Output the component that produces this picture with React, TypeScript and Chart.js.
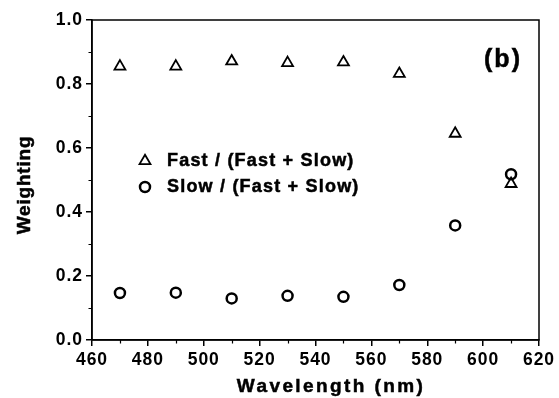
import React, { useEffect, useRef } from "react";
import { Chart, registerables } from "chart.js";
import { drawPoint } from "chart.js/helpers";

Chart.register(...registerables);

const wavelengths = [470, 490, 510, 530, 550, 570, 590, 610];
const fastWeight = [0.855, 0.855, 0.871, 0.866, 0.868, 0.832, 0.645, 0.488];
const slowWeight = [0.147, 0.148, 0.13, 0.138, 0.135, 0.172, 0.358, 0.518];
const seriesLabels = ["Fast / (Fast + Slow)", "Slow / (Fast + Slow)"];
const panelLabel = "(b)";
const xTitle = "Wavelength (nm)";
const yTitle = "Weighting";

const FONT = "'Liberation Sans', Arial, sans-serif";

const spacingPlugin = {
  id: "spacing",
  beforeDraw(chart: any) {
    (chart.ctx as any).letterSpacing = "1px";
  },
};

function boldText(ctx: any, text: string, x: number, y: number) {
  ctx.fillText(text, x, y);
  ctx.lineWidth = 0.5;
  ctx.strokeStyle = "#000";
  ctx.strokeText(text, x, y);
}

const framePlugin = {
  id: "frame",
  afterDraw(chart: any) {
    const { ctx, chartArea } = chart;
    const { left, right, top, bottom } = chartArea;
    const xs = chart.scales.x;
    const ys = chart.scales.y;
    ctx.save();
    (ctx as any).letterSpacing = "0px";
    ctx.strokeStyle = "#000";
    ctx.lineWidth = 1.5;
    ctx.strokeRect(left, top, right - left, bottom - top);
    // minor ticks
    ctx.lineWidth = 1.2;
    ctx.beginPath();
    for (let v = xs.min + 10; v < xs.max; v += 20) {
      const px = Math.round(xs.getPixelForValue(v)) + 0.5;
      ctx.moveTo(px, bottom);
      ctx.lineTo(px, bottom + 3.5);
    }
    for (let v = 0.1; v < 1.0; v += 0.2) {
      const py = Math.round(ys.getPixelForValue(v)) + 0.5;
      ctx.moveTo(left, py);
      ctx.lineTo(left - 3.5, py);
    }
    ctx.stroke();

    // legend
    const legendX = 145;
    const rowsY = [161, 187];
    chart.data.datasets.forEach((ds: any, i: number) => {
      ctx.strokeStyle = "#000";
      ctx.fillStyle = "rgba(0,0,0,0)";
      ctx.lineWidth = ds.pointBorderWidth;
      drawPoint(ctx, { pointStyle: ds.pointStyle, radius: ds.pointRadius, rotation: 0, borderWidth: ds.pointBorderWidth }, legendX, rowsY[i]);
    });
    ctx.fillStyle = "#000";
    ctx.textBaseline = "middle";
    ctx.textAlign = "left";
    ctx.font = `bold 18px ${FONT}`;
    (ctx as any).letterSpacing = "1.2px";
    chart.data.datasets.forEach((ds: any, i: number) => {
      boldText(ctx, ds.label, 167, rowsY[i]);
    });

    // axis titles
    ctx.font = `bold 19px ${FONT}`;
    (ctx as any).letterSpacing = "2.4px";
    ctx.textAlign = "center";
    ctx.textBaseline = "alphabetic";
    boldText(ctx, xTitle, 331, 392);
    ctx.save();
    ctx.translate(30, (top + bottom) / 2 + 5);
    ctx.rotate(-Math.PI / 2);
    ctx.font = `bold 19px ${FONT}`;
    (ctx as any).letterSpacing = "0.8px";
    boldText(ctx, yTitle, 0, 0);
    ctx.restore();

    // panel label
    (ctx as any).letterSpacing = "2px";
    ctx.font = `bold 25px ${FONT}`;
    ctx.textAlign = "center";
    ctx.textBaseline = "middle";
    boldText(ctx, panelLabel, 503, 60);
    ctx.restore();
  },
};

export default function App() {
  const ref = useRef<HTMLCanvasElement>(null);
  useEffect(() => {
    document.body.style.margin = "0";
    const chart = new Chart(ref.current!, {
      type: "scatter",
      data: {
        datasets: [
          {
            label: seriesLabels[0],
            data: wavelengths.map((w, i) => ({ x: w, y: fastWeight[i] })),
            pointStyle: "triangle",
            pointRadius: 6.3,
            pointBorderWidth: 1.8,
            borderColor: "#000",
            backgroundColor: "rgba(0,0,0,0)",
            pointBackgroundColor: "rgba(0,0,0,0)",
            pointBorderColor: "#000",
          },
          {
            label: seriesLabels[1],
            data: wavelengths.map((w, i) => ({ x: w, y: slowWeight[i] })),
            pointStyle: "circle",
            pointRadius: 5,
            pointBorderWidth: 2.5,
            borderColor: "#000",
            backgroundColor: "rgba(0,0,0,0)",
            pointBackgroundColor: "rgba(0,0,0,0)",
            pointBorderColor: "#000",
          },
        ],
      },
      options: {
        animation: false,
        responsive: false,
        devicePixelRatio: 1,
        layout: { padding: { top: 20, right: 20, left: 0, bottom: 0 } },
        plugins: { legend: { display: false }, tooltip: { enabled: false } },
        scales: {
          x: {
            type: "linear",
            min: 460,
            max: 620,
            ticks: {
              stepSize: 20,
              color: "#000",
              padding: 4,
              font: { family: FONT, size: 17.5, weight: "bold" },
              maxRotation: 0,
            },
            grid: { display: true, drawOnChartArea: false, color: "#000", tickLength: 6, tickWidth: 1.5, lineWidth: 1.5 },
            border: { display: true, color: "#000", width: 1.5 },
            title: { display: false },
            afterFit(scale: any) {
              scale.height = 58;
            },
          },
          y: {
            type: "linear",
            min: 0,
            max: 1,
            ticks: {
              stepSize: 0.2,
              color: "#000",
              padding: 3,
              font: { family: FONT, size: 17.5, weight: "bold" },
              callback: (v: any) => Number(v).toFixed(1),
            },
            grid: { display: true, drawOnChartArea: false, color: "#000", tickLength: 6, tickWidth: 1.5, lineWidth: 1.5 },
            border: { display: true, color: "#000", width: 1.5 },
            title: { display: false },
            afterFit(scale: any) {
              scale.width = 92;
            },
          },
        },
      },
      plugins: [spacingPlugin, framePlugin],
    } as any);
    return () => chart.destroy();
  }, []);
  return (
    <div style={{ width: 559, height: 398 }}>
      <canvas ref={ref} width={559} height={398} style={{ display: "block" }} />
    </div>
  );
}
